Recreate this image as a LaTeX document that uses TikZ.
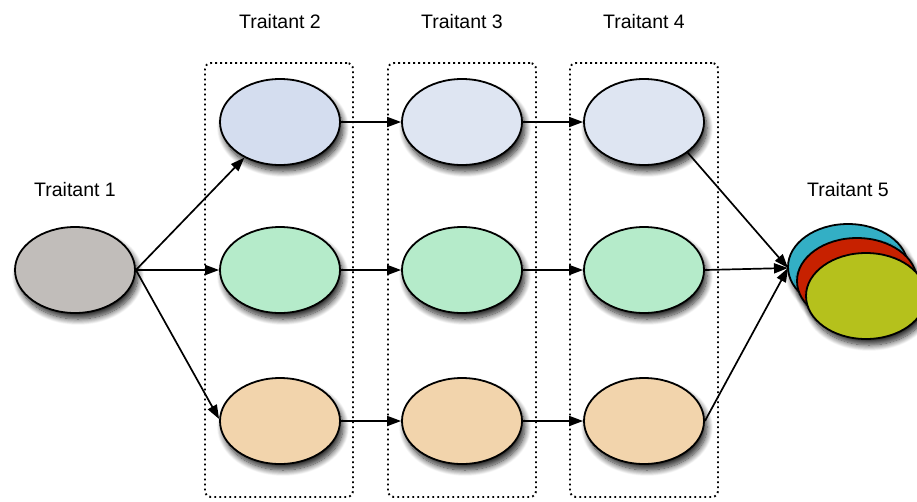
\documentclass[tikz,border=0pt]{standalone}
\usepackage{fontspec}
\setmainfont{Liberation Sans}
\usetikzlibrary{shapes.geometric,arrows.meta,shadows.blur}
\definecolor{cgray}{RGB}{193,189,186}
\definecolor{cblueA}{RGB}{212,221,239}
\definecolor{cblueB}{RGB}{222,229,242}
\definecolor{cgreen}{RGB}{181,235,202}
\definecolor{corange}{RGB}{242,212,172}
\definecolor{ccyan}{RGB}{51,175,197}
\definecolor{cred}{RGB}{199,33,0}
\definecolor{cyellow}{RGB}{181,193,28}
\begin{document}
\begin{tikzpicture}[x=1pt,y=-1pt,
  oval/.style={ellipse, draw=black, line width=1.8pt, minimum width=120pt, minimum height=86pt, inner sep=0pt,
    blur shadow={shadow xshift=3pt, shadow yshift=-6pt, shadow blur radius=6pt, shadow blur steps=12, shadow opacity=85}},
  arr/.style={line width=1.7pt, -{Triangle[length=14pt,width=10pt]}},
  grp/.style={draw=black, line width=1.9pt, dash pattern=on 1.8pt off 3.2pt, rounded corners=6pt, minimum width=148pt, minimum height=434pt, inner sep=0pt},
  lab/.style={font=\fontsize{19.5}{23}\selectfont}]
\useasboundingbox (0,0) rectangle (917,501);
% group boxes
\node[grp] (g2) at (279,280) {};
\node[grp] (g3) at (462,280) {};
\node[grp] (g4) at (644,280) {};
% labels
\node[lab] (l1) at (75,190) {Traitant 1};
\node[lab] (l2) at (280,22) {Traitant 2};
\node[lab] (l3) at (462,22) {Traitant 3};
\node[lab] (l4) at (644,22) {Traitant 4};
\node[lab] (l5) at (848,190) {Traitant 5};
% ellipses
\node[oval, fill=cgray] (t1) at (75,270) {};
\node[oval, fill=cblueA] (a2) at (280,122) {};
\node[oval, fill=cgreen] (b2) at (280,270) {};
\node[oval, fill=corange] (c2) at (280,421) {};
\node[oval, fill=cblueB] (a3) at (462,122) {};
\node[oval, fill=cgreen] (b3) at (462,270) {};
\node[oval, fill=corange] (c3) at (462,421) {};
\node[oval, fill=cblueB] (a4) at (644,122) {};
\node[oval, fill=cgreen] (b4) at (644,270) {};
\node[oval, fill=corange] (c4) at (644,421) {};
\node[oval, fill=ccyan] (t5a) at (848,267) {};
\node[oval, fill=cred] (t5b) at (857,281) {};
\node[oval, fill=cyellow] (t5c) at (866,296) {};
\coordinate (conv) at (788,268);
% connectors
\draw[arr] (t1.east) -- (a2.225);
\draw[arr] (t1.east) -- (b2.west);
\draw[arr] (t1.east) -- ([yshift=2pt]c2.west);
\draw[arr] (a2.east) -- (a3.west);
\draw[arr] (b2.east) -- (b3.west);
\draw[arr] (c2.east) -- (c3.west);
\draw[arr] (a3.east) -- (a4.west);
\draw[arr] (b3.east) -- (b4.west);
\draw[arr] (c3.east) -- (c4.west);
\draw[arr] (a4.-35) -- (conv);
\draw[arr] (b4.east) -- (conv);
\draw[arr] (c4.east) -- (conv);
\end{tikzpicture}
\end{document}
